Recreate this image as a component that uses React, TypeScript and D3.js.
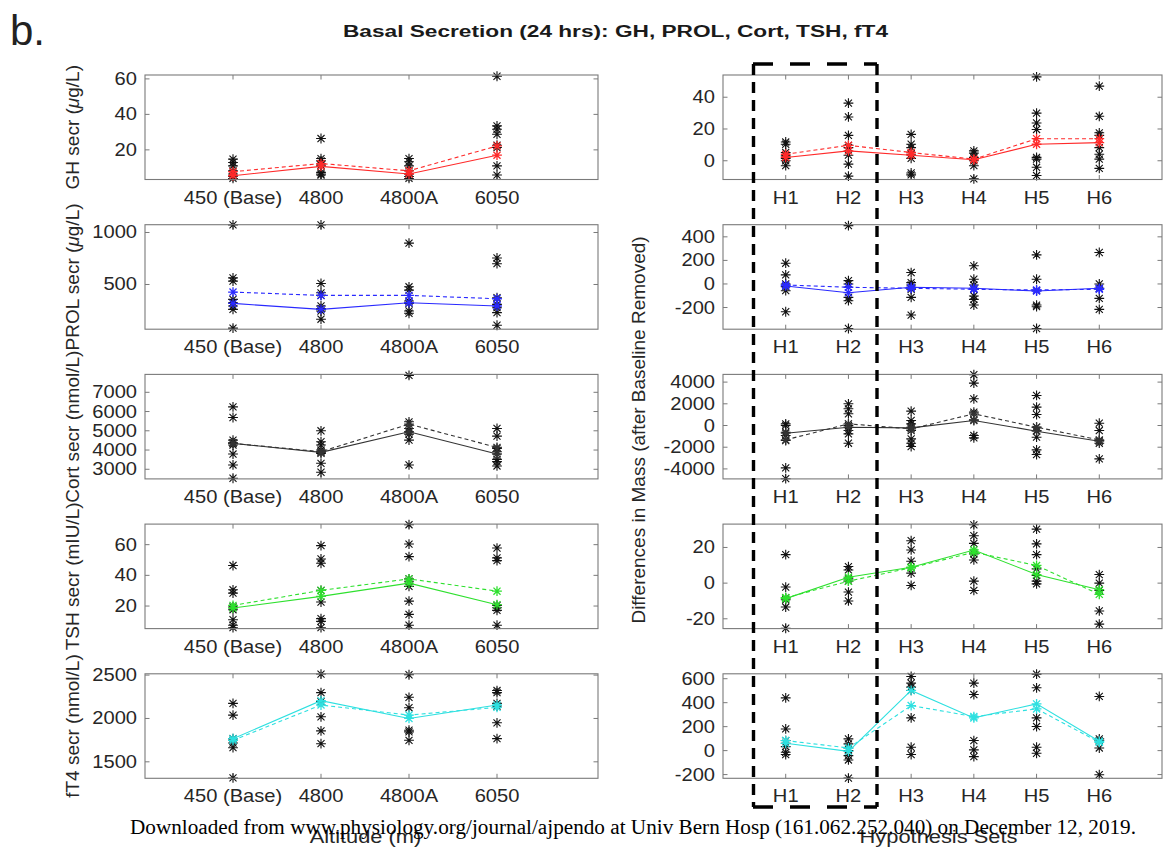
import React from "react";
import * as d3 from "d3";

const leftCats = ["450 (Base)", "4800", "4800A", "6050"];
const rightCats = ["H1", "H2", "H3", "H4", "H5", "H6"];

const leftLabels = ["GH secr (", "PROL secr (", "Cort secr (nmol/L)", "TSH secr (mIU/L)", "fT4 secr (nmol/L)"];
const leftColors = ["#ff2a2a", "#2a2aff", "#333333", "#2ee02e", "#2ee0e0"];

// ---- Left panels (absolute values by altitude) ----
const ghDomain = [3.3, 62.2];
const ghTicks = [20, 40, 60];
const ghPts = [
  [14.8, 12.9, 11, 8.2, 6.4, 5, 3.9],
  [26.4, 15.1, 13.8, 11.4, 7.3, 6.4, 5.8],
  [15.1, 13.3, 11, 8.2, 6.4, 5, 3.9],
  [61.5, 33.5, 31.6, 28.8, 22.6, 21.3, 11, 5.8],
];
const ghSolid = [5.4, 10.7, 6.4, 17];
const ghDashed = [7.7, 12.3, 8.2, 22.2];

const prolDomain = [70, 1075];
const prolTicks = [500, 1000];
const prolPts = [
  [1073, 564, 532, 357, 325, 293, 261, 80],
  [1073, 510, 420, 395, 293, 268, 245, 166],
  [898, 478, 446, 341, 318, 245, 223],
  [755, 700, 373, 309, 277, 229, 108],
];
const prolSolid = [318, 261, 325, 293];
const prolDashed = [427, 395, 395, 363];

const cortDomain = [2500, 7930];
const cortTicks = [3000, 4000, 5000, 6000, 7000];
const cortPts = [
  [6241, 5690, 4517, 4380, 4259, 3793, 3224, 2534],
  [5000, 4431, 4259, 4000, 3828, 3310, 2845],
  [7880, 5466, 5120, 4948, 4828, 4517, 3224],
  [5120, 4724, 4086, 3914, 3517, 3397, 3172],
];
const cortSolid = [4345, 3880, 4948, 3793];
const cortDashed = [4345, 3914, 5345, 4138];

const tshDomain = [5.3, 73.4];
const tshTicks = [20, 40, 60];
const tshPts = [
  [46.4, 30.6, 28.4, 19.4, 17.6, 11.1, 7.5, 5.9],
  [59.4, 50.7, 47.9, 30.2, 22.6, 11.8, 10, 5.9],
  [73, 60.4, 52.2, 37.7, 36.2, 32.8, 23.2, 14.6, 7.5],
  [57.8, 51.4, 49.6, 20.4, 18.9, 17.2, 7.5],
];
const tshSolid = [18.7, 26.3, 34.9, 20.9];
const tshDashed = [20.4, 30.2, 37.7, 29.7];

const ft4Domain = [1310, 2515];
const ft4Ticks = [1500, 2000, 2500];
const ft4Pts = [
  [2174, 2039, 1767, 1748, 1717, 1663, 1314],
  [2512, 2298, 2194, 2019, 1857, 1709],
  [2504, 2244, 2124, 1864, 1845, 1748],
  [2322, 2298, 2174, 2143, 1950, 1767],
];
const ft4Solid = [1767, 2205, 2000, 2155];
const ft4Dashed = [1748, 2155, 2039, 2128];

// ---- Right panels (differences, hypothesis sets) ----
const dGhDomain = [-11.8, 54];
const dGhTicks = [0, 20, 40];
const dGhPts = [
  [11.8, 10.4, 5.2, 3.1, 1.5, 0, -3.1],
  [36.3, 27.6, 16, 9.7, 8.3, 3.5, -2.1, -9.7],
  [16.6, 10.4, 8.3, 4.1, 1.5, -7.7, -8.9],
  [6.2, 4.8, 2.1, 0, -3.1, -11.4],
  [52.8, 30, 23.8, 19.7, 2.1, 1, -4.1, -9.3],
  [47, 28, 17.6, 16, 8.3, 4.1, 1, -4.8],
];
const dGhSolid = [2.1, 6.2, 3.5, 0.6, 10.4, 11.4];
const dGhDashed = [4.1, 9.7, 5.2, 1, 13.9, 13.9];

const dProlDomain = [-384, 503];
const dProlTicks = [-200, 0, 200, 400];
const dProlPts = [
  [176, 77, 0, -23, -57, -236],
  [495, 28, 0, -114, -142, -378],
  [97, 11, -9, -45, -114, -264],
  [154, 40, -9, -45, -102, -131, -179],
  [247, 40, -57, -179, -193, -378],
  [267, 0, -37, -122, -216],
];
const dProlSolid = [-17, -74, -28, -37, -60, -37];
const dProlDashed = [-9, -28, -37, -45, -51, -45];

const dCortDomain = [-4920, 4710];
const dCortTicks = [-4000, -2000, 0, 2000, 4000];
const dCortPts = [
  [154, 0, -615, -923, -1385, -3908, -4900],
  [2000, 1538, 1077, 0, -462, -769, -1631],
  [1323, 462, 154, -154, -462, -1231, -1631, -1938],
  [4680, 3908, 2462, 1231, 523, -923, -1138],
  [2769, 1692, 1015, -154, -462, -1077, -2246, -2677],
  [215, -462, -1385, -1631, -3077],
];
const dCortSolid = [-708, -154, -215, 462, -523, -1446];
const dCortDashed = [-1323, 154, -308, 1077, -154, -1323];

const dTshDomain = [-25.5, 33.1];
const dTshTicks = [-20, 0, 20];
const dTshPts = [
  [16, -2.2, -8.2, -9.3, -13.4, -25.3],
  [9.3, 7.4, 2.4, 1.1, -5, -10],
  [23.8, 18.6, 12.3, 8.6, 5.6, -1.3],
  [32.7, 26.6, 22.3, 16.4, 13, 1.1, -4.1],
  [30.3, 22, 16, 8, 4.3, 1.1, -0.4],
  [4.8, 0, -4.1, -15.6, -23],
];
const dTshSolid = [-8.7, 3.3, 8.9, 18.6, 4.8, -3.7];
const dTshDashed = [-8.2, 1.1, 8.6, 17.3, 9.9, -6.3];

const dFt4Domain = [-231, 641];
const dFt4Ticks = [-200, 0, 200, 400, 600];
const dFt4Pts = [
  [440, 181, 84, 61, 33, -14, -33],
  [98, 56, 22, 0, -42, -78, -229],
  [619, 563, 530, 502, 273, 28, -33],
  [563, 468, 84, 6, -50],
  [638, 524, 273, 201, 28, -22],
  [452, 98, 84, 22, -201],
];
const dFt4Solid = [61, -6, 502, 273, 390, 78];
const dFt4Dashed = [84, 22, 376, 284, 348, 70];

const leftPanels = [
  { domain: ghDomain, ticks: ghTicks, pts: ghPts, solid: ghSolid, dashed: ghDashed },
  { domain: prolDomain, ticks: prolTicks, pts: prolPts, solid: prolSolid, dashed: prolDashed },
  { domain: cortDomain, ticks: cortTicks, pts: cortPts, solid: cortSolid, dashed: cortDashed },
  { domain: tshDomain, ticks: tshTicks, pts: tshPts, solid: tshSolid, dashed: tshDashed },
  { domain: ft4Domain, ticks: ft4Ticks, pts: ft4Pts, solid: ft4Solid, dashed: ft4Dashed },
];
const rightPanels = [
  { domain: dGhDomain, ticks: dGhTicks, pts: dGhPts, solid: dGhSolid, dashed: dGhDashed },
  { domain: dProlDomain, ticks: dProlTicks, pts: dProlPts, solid: dProlSolid, dashed: dProlDashed },
  { domain: dCortDomain, ticks: dCortTicks, pts: dCortPts, solid: dCortSolid, dashed: dCortDashed },
  { domain: dTshDomain, ticks: dTshTicks, pts: dTshPts, solid: dTshSolid, dashed: dTshDashed },
  { domain: dFt4Domain, ticks: dFt4Ticks, pts: dFt4Pts, solid: dFt4Solid, dashed: dFt4Dashed },
];

const FONT = "'Liberation Sans', Arial, Helvetica, sans-serif";
const TXT = "#262626";
const BOX = "#7a7a7a";
const ROW_TOP = 75;
const ROW_STEP = 149.7;
const ROW_H = 104.5;

function starPath(r: number) {
  const d = r * 0.72;
  return `M${-r},0H${r}M0,${-r}V${r}M${-d},${-d}L${d},${d}M${-d},${d}L${d},${-d}`;
}
const STAR = starPath(4.9);

function SText({ x, y, anchor, children, size = 17.5, sx = 1.15 }: any) {
  return (
    <text
      transform={`translate(${x},${y}) scale(${sx},1)`}
      textAnchor={anchor}
      fontFamily={FONT}
      fontSize={size}
      fill={TXT}
    >
      {children}
    </text>
  );
}

function Panel({ p, cats, x0, x1, xmax, top, color }: any) {
  const x = d3.scaleLinear().domain([0, xmax]).range([x0, x1]);
  const y = d3.scaleLinear().domain(p.domain).range([top + ROW_H, top]);
  const line = d3
    .line<number>()
    .x((_, i) => x(i + 1))
    .y((v) => y(v));
  const tl = 4.5;
  return (
    <g>
      <rect x={x0} y={top} width={x1 - x0} height={ROW_H} fill="white" stroke="none" />
      {cats.map((c: string, i: number) => (
        <g key={"xt" + i}>
          <line x1={x(i + 1)} x2={x(i + 1)} y1={top + ROW_H} y2={top + ROW_H - tl} stroke={BOX} />
          <line x1={x(i + 1)} x2={x(i + 1)} y1={top} y2={top + tl} stroke={BOX} />
          <SText x={x(i + 1)} y={top + ROW_H + 24} anchor="middle">
            {c}
          </SText>
        </g>
      ))}
      {p.ticks.map((t: number, i: number) => (
        <g key={"yt" + i}>
          <line x1={x0} x2={x0 + tl} y1={y(t)} y2={y(t)} stroke={BOX} />
          <line x1={x1} x2={x1 - tl} y1={y(t)} y2={y(t)} stroke={BOX} />
          <SText x={x0 - 8} y={y(t) + 6} anchor="end">
            {String(t)}
          </SText>
        </g>
      ))}
      {p.pts.map((arr: number[], i: number) =>
        arr.map((v: number, j: number) => (
          <path
            key={`s${i}-${j}`}
            d={STAR}
            transform={`translate(${x(i + 1)},${y(v)})`}
            stroke="#111"
            strokeWidth={1.1}
            fill="none"
          />
        ))
      )}
      <path d={line(p.dashed) || ""} fill="none" stroke={color} strokeWidth={1.1} strokeDasharray="4,3" />
      <path d={line(p.solid) || ""} fill="none" stroke={color} strokeWidth={1.1} />
      {p.dashed.map((v: number, i: number) => (
        <path key={"md" + i} d={STAR} transform={`translate(${x(i + 1)},${y(v)})`} stroke={color} strokeWidth={1.3} fill="none" />
      ))}
      {p.solid.map((v: number, i: number) => (
        <path key={"ms" + i} d={STAR} transform={`translate(${x(i + 1)},${y(v)})`} stroke={color} strokeWidth={1.3} fill="none" />
      ))}
      <rect x={x0} y={top} width={x1 - x0} height={ROW_H} fill="none" stroke={BOX} strokeWidth={1.1} />
    </g>
  );
}

export default function App() {
  const W = 1169;
  const H = 848;
  const LX0 = 145, LX1 = 598;
  const RX0 = 723, RX1 = 1162;
  return (
    <svg width={W} height={H} style={{ position: "absolute", left: 0, top: 0, background: "white" }}>
      <rect x={0} y={0} width={W} height={H} fill="white" />
      <text x={10} y={45} fontFamily={FONT} fontSize={42} fill="#222">
        b.
      </text>
      <text
        x={343}
        y={37}
        fontFamily={FONT}
        fontSize={16}
        fontWeight="bold"
        fill="#1a1a1a"
        textLength={545}
        lengthAdjust="spacingAndGlyphs"
      >
        Basal Secretion (24 hrs): GH, PROL, Cort, TSH, fT4
      </text>

      {leftPanels.map((p, i) => (
        <Panel key={"L" + i} p={p} cats={leftCats} x0={LX0} x1={LX1} xmax={(LX1 - LX0) / 88} top={ROW_TOP + i * ROW_STEP} color={leftColors[i]} />
      ))}
      {rightPanels.map((p, i) => (
        <Panel key={"R" + i} p={p} cats={rightCats} x0={RX0} x1={RX1} xmax={7} top={ROW_TOP + i * ROW_STEP} color={leftColors[i]} />
      ))}

      {leftLabels.map((lab, i) => {
        const cy = ROW_TOP + i * ROW_STEP + ROW_H / 2;
        const mu = i < 2;
        return (
          <text
            key={"yl" + i}
            transform={`translate(79,${cy}) rotate(-90)`}
            textAnchor="middle"
            fontFamily={FONT}
            fontSize={19}
            fill={TXT}
          >
            {lab}
            {mu ? <tspan fontStyle="italic">μ</tspan> : null}
            {mu ? "g/L)" : null}
          </text>
        );
      })}
      <text
        transform={`translate(645,${430}) rotate(-90)`}
        textAnchor="middle"
        fontFamily={FONT}
        fontSize={19}
        fill={TXT}
      >
        Differences in Mass (after Baseline Removed)
      </text>

      <SText x={(LX0 + LX1) / 2 - 6} y={843} anchor="middle" size={19}>
        Altitude (m)
      </SText>
      <SText x={(RX0 + RX1) / 2 - 4} y={843} anchor="middle" size={19}>
        Hypothesis Sets
      </SText>

      <g stroke="#000" strokeWidth={3.4} fill="none">
        <line x1={753} x2={877} y1={64} y2={64} strokeDasharray="20,17" />
        <line x1={753} x2={877} y1={807} y2={807} strokeDasharray="20,17" />
        <line x1={753.5} x2={753.5} y1={64} y2={807} strokeDasharray="11,7" />
        <line x1={877} x2={877} y1={64} y2={807} strokeDasharray="11,7" />
      </g>

      <text
        x={130}
        y={834}
        fontFamily="'Liberation Serif', 'Times New Roman', serif"
        fontSize={20}
        fill="#000"
        textLength={1006}
        lengthAdjust="spacingAndGlyphs"
      >
        Downloaded from www.physiology.org/journal/ajpendo at Univ Bern Hosp (161.062.252.040) on December 12, 2019.
      </text>
    </svg>
  );
}
